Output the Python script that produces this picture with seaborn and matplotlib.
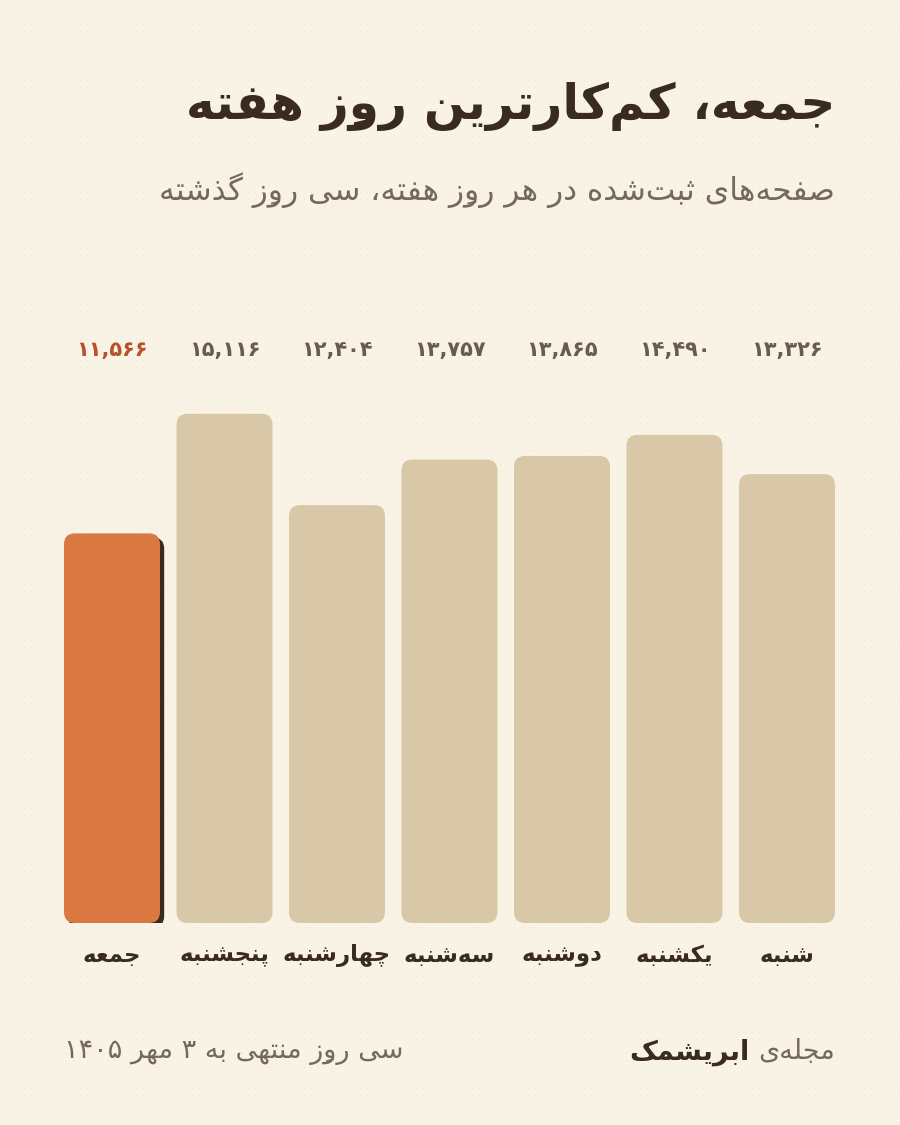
import re
import unicodedata
import numpy as np
import pandas as pd
import matplotlib
matplotlib.use('Agg')
import matplotlib.pyplot as plt
import matplotlib.patheffects as pe
from matplotlib.patches import FancyBboxPatch
from matplotlib.colors import to_rgb
import seaborn as sns

# داده‌ها
days = ['شنبه', 'یکشنبه', 'دوشنبه', 'سه‌شنبه', 'چهارشنبه', 'پنجشنبه', 'جمعه']
pages = [13326, 14490, 13865, 13757, 12404, 15116, 11566]
highlight = 'جمعه'

title = 'جمعه، کم‌کارترین روزِ هفته'
subtitle = 'صفحه‌های ثبت‌شده در هر روزِ هفته، سی روزِ گذشته'
footer_left = 'سی روزِ منتهی به ۳ مهر ۱۴۰۵'
footer_mag = 'مجله‌ی'
footer_brand = 'ابریشمک'

BG = '#F9F3E5'
DOT = '#EFE6D3'
BAR = '#D8C8A7'
HI = '#D97941'
SHADOW = '#3A2A20'
DARK = '#3A2B22'
MUTED = '#76685C'
VAL = '#6A5B50'
HI_TXT = '#B4522A'

# --- شکل‌دهی ساده‌ی حروف فارسی (matplotlib خودش این کار را نمی‌کند) ---
FORMS = {
    'ا': ('\uFE8D', '\uFE8E'), 'آ': ('\uFE81', '\uFE82'),
    'ب': ('\uFE8F', '\uFE90', '\uFE91', '\uFE92'),
    'پ': ('\uFB56', '\uFB57', '\uFB58', '\uFB59'),
    'ت': ('\uFE95', '\uFE96', '\uFE97', '\uFE98'),
    'ث': ('\uFE99', '\uFE9A', '\uFE9B', '\uFE9C'),
    'ج': ('\uFE9D', '\uFE9E', '\uFE9F', '\uFEA0'),
    'چ': ('\uFB7A', '\uFB7B', '\uFB7C', '\uFB7D'),
    'ح': ('\uFEA1', '\uFEA2', '\uFEA3', '\uFEA4'),
    'خ': ('\uFEA5', '\uFEA6', '\uFEA7', '\uFEA8'),
    'د': ('\uFEA9', '\uFEAA'), 'ذ': ('\uFEAB', '\uFEAC'),
    'ر': ('\uFEAD', '\uFEAE'), 'ز': ('\uFEAF', '\uFEB0'),
    'ژ': ('\uFB8A', '\uFB8B'),
    'س': ('\uFEB1', '\uFEB2', '\uFEB3', '\uFEB4'),
    'ش': ('\uFEB5', '\uFEB6', '\uFEB7', '\uFEB8'),
    'ص': ('\uFEB9', '\uFEBA', '\uFEBB', '\uFEBC'),
    'ض': ('\uFEBD', '\uFEBE', '\uFEBF', '\uFEC0'),
    'ط': ('\uFEC1', '\uFEC2', '\uFEC3', '\uFEC4'),
    'ظ': ('\uFEC5', '\uFEC6', '\uFEC7', '\uFEC8'),
    'ع': ('\uFEC9', '\uFECA', '\uFECB', '\uFECC'),
    'غ': ('\uFECD', '\uFECE', '\uFECF', '\uFED0'),
    'ف': ('\uFED1', '\uFED2', '\uFED3', '\uFED4'),
    'ق': ('\uFED5', '\uFED6', '\uFED7', '\uFED8'),
    'ک': ('\uFB8E', '\uFB8F', '\uFB90', '\uFB91'),
    'گ': ('\uFB92', '\uFB93', '\uFB94', '\uFB95'),
    'ل': ('\uFEDD', '\uFEDE', '\uFEDF', '\uFEE0'),
    'م': ('\uFEE1', '\uFEE2', '\uFEE3', '\uFEE4'),
    'ن': ('\uFEE5', '\uFEE6', '\uFEE7', '\uFEE8'),
    'و': ('\uFEED', '\uFEEE'),
    'ه': ('\uFEE9', '\uFEEA', '\uFEEB', '\uFEEC'),
    'ی': ('\uFBFC', '\uFBFD', '\uFBFE', '\uFBFF'),
}


def shape(s):
    chars = list(s)
    n = len(chars)
    out = []
    for i, c in enumerate(chars):
        if c not in FORMS:
            out.append(c)
            continue
        j = i - 1
        while j >= 0 and unicodedata.combining(chars[j]):
            j -= 1
        k = i + 1
        while k < n and unicodedata.combining(chars[k]):
            k += 1
        prev_joins = j >= 0 and chars[j] in FORMS and len(FORMS[chars[j]]) == 4
        next_joins = k < n and chars[k] in FORMS and len(FORMS[c]) == 4
        f = FORMS[c]
        if prev_joins and next_joins:
            out.append(f[3])
        elif prev_joins:
            out.append(f[1])
        elif next_joins:
            out.append(f[2])
        else:
            out.append(f[0])
    return ''.join(out).replace('\u200c', '')


def rev_clusters(s):
    clusters = []
    for c in s:
        if unicodedata.combining(c) and clusters:
            clusters[-1] += c
        else:
            clusters.append(c)
    return ''.join(clusters[::-1])


def fa(s):
    shaped = shape(s)
    parts = re.split(r'([0-9۰-۹]+(?:[,٬.][0-9۰-۹]+)*)', shaped)
    vis = [p if re.fullmatch(r'[0-9۰-۹,٬.]+', p or 'x') else rev_clusters(p) for p in parts]
    return ''.join(vis[::-1])


def fa_num(v):
    return f'{v:,}'.translate(str.maketrans('0123456789', '۰۱۲۳۴۵۶۷۸۹'))


sns.set_theme(style='white')
plt.rcParams['font.family'] = ['DejaVu Sans']

df = pd.DataFrame({'day': days, 'pages': pages})
order = days[::-1]  # راست به چپ
palette = {d: (HI if d == highlight else BAR) for d in days}

fig = plt.figure(figsize=(9, 11.25), dpi=100, facecolor=BG)

# پس‌زمینه‌ی نقطه‌ای
bg = fig.add_axes([0, 0, 1, 1], zorder=-10)
img = np.ones((1125, 900, 3)) * np.array(to_rgb(BG))
img[3::7, 3::7] = to_rgb(DOT)
bg.imshow(img, aspect='auto', interpolation='nearest')
bg.axis('off')

ax = fig.add_axes([55.75 / 900, 202 / 1125, 787.5 / 900, 539 / 1125])
ax.set_facecolor('none')
sns.barplot(data=df, x='day', y='pages', order=order, hue='day', hue_order=order,
            palette=palette, width=96 / 112.5, saturation=1, legend=False, ax=ax)
ax.set_xlim(-0.5, 6.5)
ax.set_ylim(0, 16000)

# گوشه‌های گرد
p0 = ax.transData.transform((0, 0))
px_x = ax.transData.transform((1, 0))[0] - p0[0]
px_y = ax.transData.transform((0, 1))[1] - p0[1]
r = 11 / px_x
for bar in list(ax.patches):
    x, y, w, h = bar.get_x(), bar.get_y(), bar.get_width(), bar.get_height()
    fc = bar.get_facecolor()
    bar.remove()
    fb = FancyBboxPatch((x, y), w, h, boxstyle=f'round,pad=0,rounding_size={r}',
                        mutation_aspect=px_x / px_y, fc=fc, ec='none')
    if order[int(round(x + w / 2))] == highlight:
        fb.set_path_effects([pe.SimplePatchShadow(offset=(3, -3), shadow_rgbFace=SHADOW, alpha=1.0),
                             pe.Normal()])
    ax.add_patch(fb)

vals = dict(zip(days, pages))
for i, d in enumerate(order):
    ax.text(i, 1.063, fa_num(vals[d]), transform=ax.get_xaxis_transform(),
            ha='center', va='center', fontsize=15, fontweight='bold',
            color=HI_TXT if d == highlight else VAL)

ax.set_xticks(range(len(order)))
ax.set_xticklabels([fa(d) for d in order], fontsize=16.5, fontweight='bold', color=DARK)
ax.tick_params(axis='x', length=0, pad=15)
ax.set_yticks([])
ax.set_xlabel('')
ax.set_ylabel('')
sns.despine(ax=ax, left=True, bottom=True)

fig.text(835 / 900, 1 - 106 / 1125, fa(title), ha='right', va='center',
         fontsize=35, fontweight='bold', color=DARK)
fig.text(835 / 900, 1 - 190 / 1125, fa(subtitle), ha='right', va='center',
         fontsize=22.5, color=MUTED)

fy = 1 - 1052 / 1125
fig.text(64 / 900, fy, fa(footer_left), ha='left', va='center', fontsize=19.5, color=MUTED)
t1 = fig.text(835 / 900, fy, fa(footer_mag), ha='right', va='center', fontsize=19.5, color=MUTED)
fig.add_artist(plt.Annotation(fa(footer_brand), xy=(0, 0.5), xycoords=t1, xytext=(-6, 0),
                              textcoords='offset points', ha='right', va='center',
                              fontsize=19.5, fontweight='bold', color=DARK))

fig.savefig('out.png', dpi=100, facecolor=BG)
